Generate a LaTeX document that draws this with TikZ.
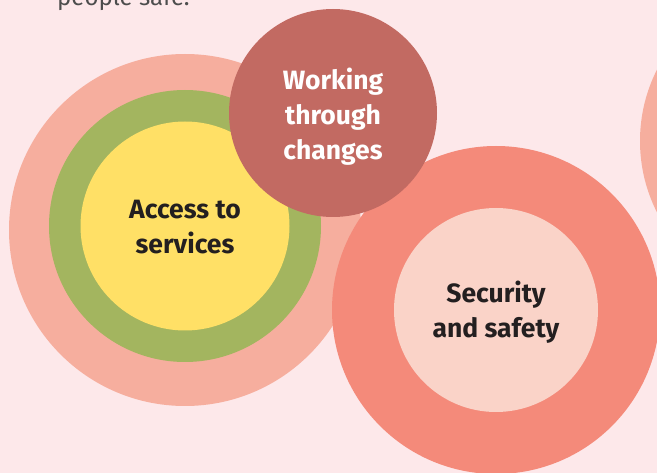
\documentclass[tikz,border=0pt]{standalone}
\usepackage{fontspec}
\setmainfont{Fira Sans}
\usepackage{tikz}
\usetikzlibrary{positioning}

\definecolor{pagebg}{HTML}{FDE8EA}
\definecolor{paleSalmon}{HTML}{F6AE9E}
\definecolor{leafGreen}{HTML}{A3B55F}
\definecolor{sunYellow}{HTML}{FFE066}
\definecolor{brickRed}{HTML}{C26A62}
\definecolor{coral}{HTML}{F48A7A}
\definecolor{blush}{HTML}{FAD3C8}
\definecolor{inkText}{HTML}{231F20}
\definecolor{greyText}{HTML}{4D4D4D}

\begin{document}
\begin{tikzpicture}[x=1pt,y=-1pt,
 disc/.style={circle,inner sep=0pt,outer sep=0pt},
 label text/.style={align=center,font=\fontsize{26.5}{35}\selectfont\bfseries}]
 \useasboundingbox (0,0) rectangle (657,473);
 \fill[pagebg] (0,0) rectangle (657,473);

 \node[anchor=base west,text=greyText,font=\fontsize{24}{28}\selectfont,inner sep=0pt] (intro) at (57,6) {people safe.};

 % left group
 \node[disc,fill=paleSalmon,minimum size=352pt] (outerL) at (185,230) {};
 \node[disc,fill=leafGreen,minimum size=272pt] (ringL) at (185,226) {};
 \node[disc,fill=sunYellow,minimum size=209pt] (access) at (185,226) {};
 \node[label text,text=inkText] (accessText) at ([yshift=-1pt]access) {Access to\\services};

 % right group
 \node[disc,fill=coral,minimum size=328pt] (outerR) at (496,310) {};
 \node[disc,fill=blush,minimum size=204pt] (security) at (496,310) {};
 \node[label text,text=inkText] (securityText) at ([yshift=-2pt]security) {Security\\and safety};

 \node[disc,fill=brickRed,minimum size=208pt] (working) at (333,113) {};
 \node[label text,text=white] (workingText) at ([yshift=-4pt]working) {Working\\through\\changes};

 \node[disc,fill=paleSalmon,minimum size=316pt] (edge) at (798,141) {};
\end{tikzpicture}
\end{document}
